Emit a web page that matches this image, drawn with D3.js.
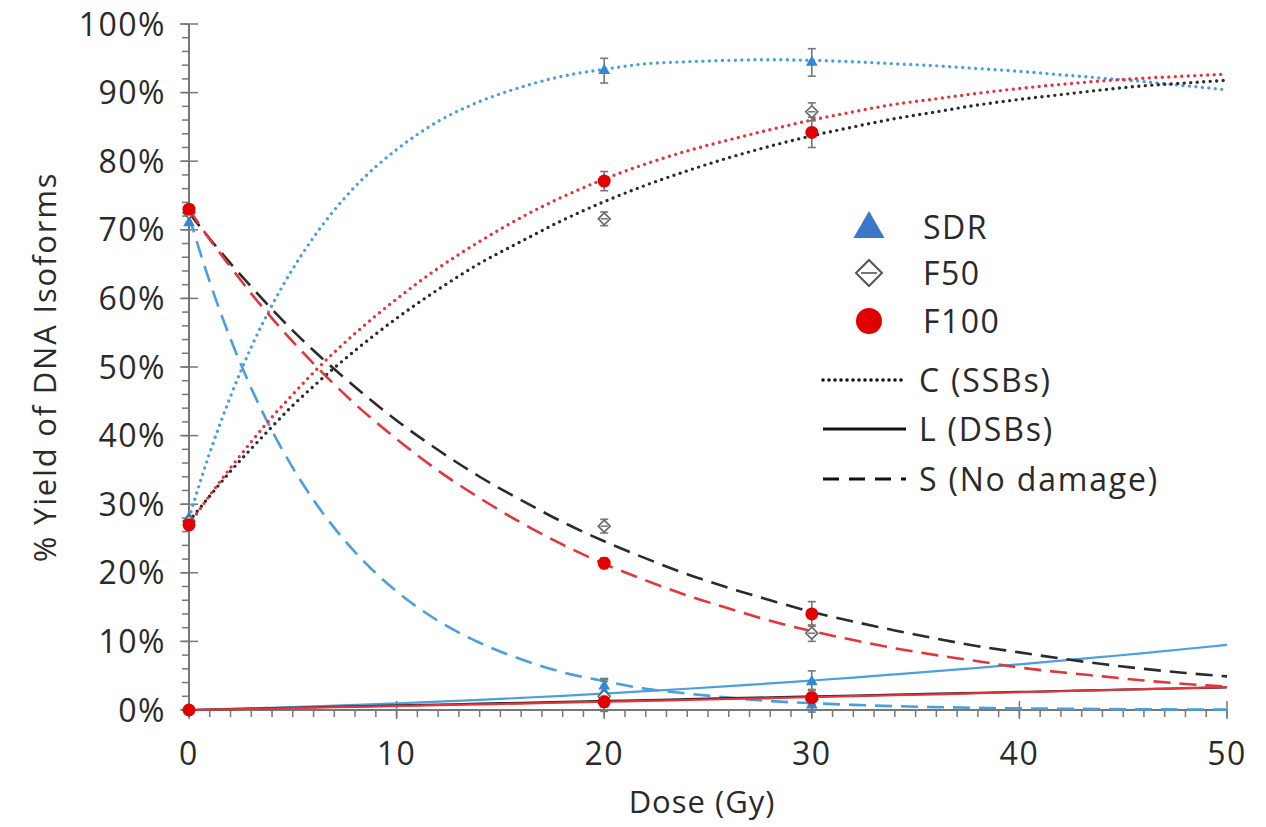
<!DOCTYPE html>
<html lang="en">
<head>
<meta charset="UTF-8">
<script src="https://d3js.org/d3.v7.min.js"></script>
<title>DNA isoforms</title>
<style>
  body { margin: 0; background: #fff; }
  text { font-family: "Open Sans", "Noto Sans", sans-serif; fill: #2a2a2a; }
</style>
</head>
<body>
<div id="chart"></div>
<script>
// dose grid of the fitted curves (Gy)
const doses = [0,1,2,3,4,5,6,8,10,12,14,16,18,20,22,24,26,28,30,32,34,36,38,40,42,44,46,48,50];

// SDR fitted curves (%)
const sdrC = [28.0,37.5,45.7,52.9,59.0,64.3,68.9,76.3,81.7,85.8,88.7,90.8,92.4,93.4,94.2,94.5,94.7,94.8,94.7,94.5,94.2,93.9,93.5,93.1,92.6,92.1,91.6,91.0,90.4];
const sdrL = [0,0.08,0.16,0.24,0.33,0.42,0.52,0.74,0.97,1.22,1.48,1.77,2.07,2.4,2.74,3.10,3.48,3.88,4.30,4.73,5.19,5.66,6.15,6.66,7.19,7.74,8.30,8.89,9.5];
const sdrS = [72.0,62.4,54.1,46.9,40.7,35.3,30.6,23.0,17.3,13.0,9.8,7.4,5.5,4.2,3.1,2.4,1.8,1.3,1.0,0.75,0.56,0.42,0.32,0.24,0.18,0.14,0.10,0.08,0.06];

// F50 fitted curves (%)
const f50C = [27.5,31.2,34.8,38.1,41.3,44.4,47.2,52.4,57.1,61.3,65.1,68.3,71.4,74.1,76.5,78.6,80.5,82.2,83.7,85.0,86.2,87.2,88.2,89.0,89.7,90.4,91.0,91.4,91.8];
const f50L = [0,0.07,0.13,0.2,0.26,0.33,0.4,0.53,0.66,0.79,0.92,1.06,1.19,1.32,1.45,1.58,1.72,1.85,1.98,2.11,2.24,2.38,2.51,2.64,2.77,2.9,3.04,3.17,3.3];
const f50S = [72.5,68.7,65.1,61.7,58.4,55.3,52.4,47.1,42.2,37.9,34.0,30.6,27.4,24.6,22.1,19.8,17.8,16.0,14.3,12.9,11.6,10.4,9.3,8.4,7.5,6.7,6.0,5.4,4.9];

// F100 fitted curves (%)
const f100C = [27.0,31.3,35.3,39.1,42.7,46.0,49.2,54.9,59.9,64.4,68.3,71.8,74.8,77.4,79.6,81.5,83.1,84.6,86.0,87.2,88.3,89.1,89.9,90.6,91.2,91.7,92.1,92.4,92.7];
const f100L = [0,0.06,0.11,0.17,0.22,0.28,0.34,0.46,0.58,0.70,0.82,0.94,1.07,1.2,1.33,1.46,1.6,1.73,1.87,2.01,2.15,2.29,2.44,2.59,2.73,2.88,3.04,3.19,3.35];
const f100S = [73.0,68.6,64.6,60.7,57.1,53.7,50.5,44.6,39.5,34.9,30.9,27.3,24.1,21.3,18.9,16.7,14.8,13.0,11.5,10.2,9.0,8.0,7.1,6.2,5.5,4.9,4.3,3.8,3.4];

// measured points with error bars
const pointDoses = [0, 20, 30];
const sdrPtsC = [28, 93.2, 94.4],   sdrErrC = [0, 1.8, 2.0];
const sdrPtsS = [71, 3.5, 0.7],     sdrErrS = [0, 1.0, 1.0];
const sdrPtsL = [0, 2.6, 4.1],      sdrErrL = [0, 2.0, 1.6];
const f50PtsC = [27.5, 71.6, 87.2], f50ErrC = [0, 1.0, 1.3];
const f50PtsS = [72.5, 26.8, 11.2], f50ErrS = [0, 1.0, 1.2];
const f50PtsL = [0, 2.0, 1.5],      f50ErrL = [0, 2.2, 1.5];
const f100PtsC = [27, 77.1, 84.2],  f100ErrC = [0, 1.4, 2.2];
const f100PtsS = [73, 21.4, 14.0],  f100ErrS = [0, 0.8, 1.8];
const f100PtsL = [0, 1.2, 1.8],     f100ErrL = [0, 0.8, 1.0];

const xTicks = [0, 10, 20, 30, 40, 50];
const yTicks = [0, 10, 20, 30, 40, 50, 60, 70, 80, 90, 100];
const legendMarkers = ["SDR", "F50", "F100"];
const legendLines = ["C (SSBs)", "L (DSBs)", "S (No damage)"];

const W = 1266, H = 827;
const svg = d3.select("#chart").append("svg").attr("width", W).attr("height", H);

const x = d3.scaleLinear().domain([0, 50]).range([189, 1227]);
const y = d3.scaleLinear().domain([0, 100]).range([710, 24]);

const blue = "#4a9fdc", black = "#2b2b2b", red = "#e3353b";
const axisCol = "#777";

// axes
const axes = svg.append("g");
axes.append("line").attr("x1", x(0)).attr("x2", x(0)).attr("y1", y(0)).attr("y2", y(100))
    .attr("stroke", axisCol).attr("stroke-width", 2);
axes.append("line").attr("x1", x(0)).attr("x2", x(50)).attr("y1", y(0)).attr("y2", y(0))
    .attr("stroke", axisCol).attr("stroke-width", 2);

// minor ticks
axes.selectAll(".ymin").data(d3.range(0, 101, 2)).join("line")
    .attr("x1", x(0) - 7).attr("x2", x(0)).attr("y1", d => y(d)).attr("y2", d => y(d))
    .attr("stroke", axisCol).attr("stroke-width", 1.5);
axes.selectAll(".xmin").data(d3.range(0, 51, 1)).join("line")
    .attr("x1", d => x(d)).attr("x2", d => x(d)).attr("y1", y(0)).attr("y2", y(0) + 7)
    .attr("stroke", axisCol).attr("stroke-width", 1.5);
// major ticks
axes.selectAll(".ymaj").data(yTicks).join("line")
    .attr("x1", x(0) - 9).attr("x2", x(0) + 9).attr("y1", d => y(d)).attr("y2", d => y(d))
    .attr("stroke", axisCol).attr("stroke-width", 1.5);
axes.selectAll(".xmaj").data(xTicks).join("line")
    .attr("x1", d => x(d)).attr("x2", d => x(d)).attr("y1", y(0) - 9).attr("y2", y(0) + 9)
    .attr("stroke", axisCol).attr("stroke-width", 1.5);

axes.selectAll(".ylab").data(yTicks).join("text")
    .attr("x", 166).attr("y", d => y(d)).attr("dy", "0.36em")
    .attr("text-anchor", "end").attr("font-size", 32).attr("letter-spacing", 1.5)
    .text(d => d + "%");
axes.selectAll(".xlab").data(xTicks).join("text")
    .attr("x", d => x(d)).attr("y", 765)
    .attr("text-anchor", "middle").attr("font-size", 32).attr("letter-spacing", 1.5)
    .text(d => d);

svg.append("text").attr("x", 702).attr("y", 813).attr("text-anchor", "middle")
    .attr("font-size", 31).attr("letter-spacing", 1).text("Dose (Gy)");
svg.append("text").attr("transform", `translate(56,${y(50)}) rotate(-90)`)
    .attr("text-anchor", "middle").attr("font-size", 31).attr("letter-spacing", 1.8)
    .text("% Yield of DNA Isoforms");

// fitted curves
const line = d3.line().curve(d3.curveMonotoneX).x(d => x(d[0])).y(d => y(d[1]));
const styles = {
  C: { dash: "0 6.5", width: 3.4, cap: "round" },
  L: { dash: null, width: 2.2, cap: "butt" },
  S: { dash: "17 9", width: 2.6, cap: "butt" }
};
function curve(vals, color, kind) {
  const st = styles[kind];
  svg.append("path").datum(doses.map((d, i) => [d, vals[i]]))
     .attr("fill", "none").attr("stroke", color)
     .attr("stroke-width", st.width).attr("stroke-linecap", st.cap)
     .attr("stroke-dasharray", st.dash).attr("d", line);
}
curve(sdrS, blue, "S"); curve(sdrC, blue, "C"); curve(sdrL, blue, "L");
curve(f50S, black, "S"); curve(f50C, black, "C"); curve(f50L, black, "L");
curve(f100S, red, "S"); curve(f100C, red, "C"); curve(f100L, red, "L");

// error bars
function errBars(vals, errs) {
  const g = svg.append("g").attr("stroke", "#777").attr("stroke-width", 1.6);
  pointDoses.forEach((d, i) => {
    if (!errs[i]) return;
    const cx = x(d), y1 = y(vals[i] + errs[i]), y2 = y(vals[i] - errs[i]);
    g.append("line").attr("x1", cx).attr("x2", cx).attr("y1", y1).attr("y2", y2);
    g.append("line").attr("x1", cx - 4).attr("x2", cx + 4).attr("y1", y1).attr("y2", y1);
    g.append("line").attr("x1", cx - 4).attr("x2", cx + 4).attr("y1", y2).attr("y2", y2);
  });
}
[[sdrPtsC, sdrErrC], [sdrPtsS, sdrErrS], [sdrPtsL, sdrErrL],
 [f50PtsC, f50ErrC], [f50PtsS, f50ErrS], [f50PtsL, f50ErrL],
 [f100PtsC, f100ErrC], [f100PtsS, f100ErrS], [f100PtsL, f100ErrL]]
  .forEach(p => errBars(p[0], p[1]));

// markers
const tri = d3.symbol().type(d3.symbolTriangle);
function triangles(vals, size) {
  svg.append("g").selectAll("path").data(pointDoses).join("path")
     .attr("d", tri.size(size)())
     .attr("transform", (d, i) => `translate(${x(d)},${y(vals[i])})`)
     .attr("fill", "#2f8ad6");
}
function diamonds(vals, r) {
  const g = svg.append("g");
  pointDoses.forEach((d, i) => {
    const cx = x(d), cy = y(vals[i]);
    g.append("path").attr("d", `M${cx},${cy - r}L${cx + r},${cy}L${cx},${cy + r}L${cx - r},${cy}Z`)
     .attr("fill", "#fff").attr("stroke", "#666").attr("stroke-width", 1.6);
    g.append("line").attr("x1", cx - r * 0.6).attr("x2", cx + r * 0.6).attr("y1", cy).attr("y2", cy)
     .attr("stroke", "#666").attr("stroke-width", 1.4);
  });
}
function dots(vals, r) {
  svg.append("g").selectAll("circle").data(pointDoses).join("circle")
     .attr("cx", d => x(d)).attr("cy", (d, i) => y(vals[i])).attr("r", r)
     .attr("fill", "#e00000");
}
[sdrPtsC, sdrPtsS, sdrPtsL].forEach(v => triangles(v, 60));
[f50PtsC, f50PtsS, f50PtsL].forEach(v => diamonds(v, 6));
[f100PtsC, f100PtsS, f100PtsL].forEach(v => dots(v, 6.5));

// legend
const lg = svg.append("g");
const lgY = [227, 273, 321];
lg.append("path").attr("d", d3.symbol().type(d3.symbolTriangle).size(420)())
  .attr("transform", `translate(869,${lgY[0] + 2})`).attr("fill", "#3b78c8");
{
  const cx = 869, cy = lgY[1], r = 13;
  lg.append("path").attr("d", `M${cx},${cy - r}L${cx + r},${cy}L${cx},${cy + r}L${cx - r},${cy}Z`)
    .attr("fill", "#fff").attr("stroke", "#555").attr("stroke-width", 2);
  lg.append("line").attr("x1", cx - 8).attr("x2", cx + 8).attr("y1", cy).attr("y2", cy)
    .attr("stroke", "#555").attr("stroke-width", 1.6);
}
lg.append("circle").attr("cx", 869).attr("cy", lgY[2]).attr("r", 13).attr("fill", "#e00000");
lg.selectAll(".lm").data(legendMarkers).join("text")
  .attr("x", 923).attr("y", (d, i) => lgY[i]).attr("dy", "0.36em")
  .attr("font-size", 32).attr("letter-spacing", 1.5).text(d => d);

const lineY = [380, 429, 479];
const lineKinds = ["C", "L", "S"];
lineKinds.forEach((k, i) => {
  const st = styles[k];
  lg.append("line").attr("x1", 823).attr("x2", 906).attr("y1", lineY[i]).attr("y2", lineY[i])
    .attr("stroke", "#111").attr("stroke-width", k === "C" ? 3.6 : 3)
    .attr("stroke-linecap", st.cap)
    .attr("stroke-dasharray", k === "C" ? "0 6" : (k === "S" ? "16 10" : null));
});
lg.selectAll(".ll").data(legendLines).join("text")
  .attr("x", 919).attr("y", (d, i) => lineY[i]).attr("dy", "0.36em")
  .attr("font-size", 32).attr("letter-spacing", 1.8).text(d => d);
</script>
</body>
</html>
